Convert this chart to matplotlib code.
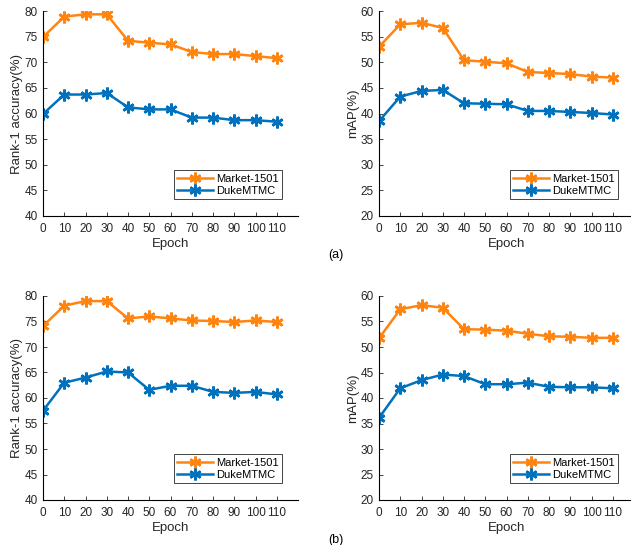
import matplotlib
matplotlib.use('Agg')
import matplotlib.pyplot as plt

plt.rcParams['font.family'] = ['Liberation Sans', 'DejaVu Sans']

epochs = [0, 10, 20, 30, 40, 50, 60, 70, 80, 90, 100, 110]

# (a)
a_rank_market = [74.9, 78.9, 79.35, 79.35, 74.2, 73.8, 73.5, 72.0, 71.6, 71.6, 71.2, 70.8]
a_rank_duke = [59.9, 63.7, 63.7, 64.0, 61.2, 60.8, 60.8, 59.2, 59.2, 58.7, 58.7, 58.4]
a_map_market = [53.0, 57.4, 57.7, 56.7, 50.4, 50.1, 49.8, 48.1, 47.9, 47.7, 47.2, 47.0]
a_map_duke = [38.5, 43.3, 44.4, 44.6, 42.0, 41.9, 41.8, 40.5, 40.5, 40.3, 40.1, 39.8]

# (b)
b_rank_market = [74.1, 78.1, 79.0, 79.0, 75.6, 76.0, 75.6, 75.2, 75.1, 74.9, 75.2, 74.9]
b_rank_duke = [57.5, 63.0, 64.0, 65.2, 65.0, 61.6, 62.4, 62.4, 61.2, 61.0, 61.2, 60.7]
b_map_market = [51.7, 57.4, 58.2, 57.7, 53.5, 53.4, 53.2, 52.6, 52.1, 52.0, 51.8, 51.8]
b_map_duke = [36.1, 41.9, 43.5, 44.6, 44.3, 42.7, 42.7, 43.0, 42.2, 42.1, 42.1, 41.9]

c_market = '#FF8410'
c_duke = '#0072BD'

fig = plt.figure(figsize=(6.31, 5.45), dpi=100)

W, H = 631, 545
def add_ax(left, top, bottom):
    return fig.add_axes([left / W, 1 - bottom / H, 255 / W, (bottom - top) / H])

panels = [
    (add_ax(43, 11, 216), a_rank_market, a_rank_duke, (40, 80), 'Rank-1 accuracy(%)'),
    (add_ax(379, 11, 216), a_map_market, a_map_duke, (20, 60), 'mAP(%)'),
    (add_ax(43, 296, 500), b_rank_market, b_rank_duke, (40, 80), 'Rank-1 accuracy(%)'),
    (add_ax(379, 296, 500), b_map_market, b_map_duke, (20, 60), 'mAP(%)'),
]

for ax, market, duke, ylim, ylabel in panels:
    ax.plot(epochs, market, color=c_market, lw=1.8, marker=(6, 2, 0), ms=8.5, mew=1.9,
            label='Market-1501')
    ax.plot(epochs, duke, color=c_duke, lw=1.8, marker=(6, 2, 0), ms=8.5, mew=1.9,
            label='DukeMTMC')
    ax.set_xlim(0, 120)
    ax.set_ylim(*ylim)
    ax.set_xticks(epochs)
    ax.set_yticks(range(ylim[0], ylim[1] + 1, 5))
    ax.spines['top'].set_visible(False)
    ax.spines['right'].set_visible(False)
    ax.spines['left'].set_linewidth(0.8)
    ax.spines['bottom'].set_linewidth(0.8)
    ax.tick_params(direction='in', length=3, width=0.6, labelsize=8.5, colors='#262626')
    ax.tick_params(axis='x', pad=5)
    ax.tick_params(axis='y', pad=4)
    ax.set_xlabel('Epoch', fontsize=9.5, color='#262626', labelpad=2)
    ax.set_ylabel(ylabel, fontsize=9.5, color='#262626', labelpad=1)
    leg = ax.legend(loc='lower right', bbox_to_anchor=(0.96, 0.055), fontsize=8,
                    fancybox=False, framealpha=1, edgecolor='#262626',
                    handlelength=3.2, borderpad=0.3, labelspacing=0.2, handletextpad=0.3)
    leg.get_frame().set_linewidth(0.6)

fig.text(336 / W, 1 - 255 / H, '(a)', ha='center', va='center', fontsize=9)
fig.text(336 / W, 1 - 540 / H, '(b)', ha='center', va='center', fontsize=9)

fig.savefig('out.png', dpi=100)
